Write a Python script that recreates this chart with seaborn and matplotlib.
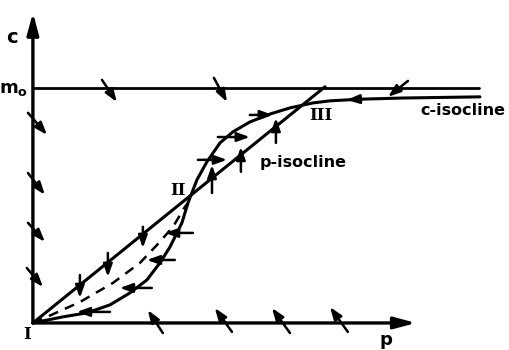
import numpy as np
import pandas as pd
import seaborn as sns
import matplotlib.pyplot as plt

sns.set_theme(style="white")

# curves (p, c), m0 = 1
c_iso_p = [0, 0.128, 0.230, 0.328, 0.413, 0.485, 0.540, 0.583, 0.613, 0.634,
           0.660, 0.698, 0.740, 0.796, 0.851, 0.923, 1.009, 1.094, 1.191,
           1.264, 1.391, 1.574, 1.902]
c_iso_c = [0, 0.026, 0.043, 0.077, 0.128, 0.183, 0.255, 0.323, 0.383, 0.426,
           0.511, 0.609, 0.685, 0.766, 0.813, 0.855, 0.889, 0.915, 0.936,
           0.945, 0.952, 0.957, 0.962]
p_iso_p = [0, 1.243]
p_iso_c = [0, 1.005]
sep_p = [0, 0.060, 0.200, 0.340, 0.455, 0.528, 0.596, 0.647, 0.660]
sep_c = [0, 0.026, 0.089, 0.170, 0.255, 0.332, 0.409, 0.494, 0.511]
m0_p = [0, 1.90]
m0_c = [1.0, 1.0]

# direction arrows: tail (p, c) -> head (p, c)
arr_tail_p = [0.294, 0.770, 1.596,
              -0.021, -0.021, -0.021, -0.026,
              0.553, 0.847, 1.094, 1.340,
              0.200, 0.319, 0.468,
              0.328, 0.506, 0.604, 0.681,
              0.762, 0.885, 1.034,
              0.702, 0.787, 0.923, 1.370]
arr_tail_c = [1.034, 1.043, 1.030,
              0.894, 0.638, 0.426, 0.234,
              -0.043, -0.038, -0.043, -0.038,
              0.204, 0.298, 0.409,
              0.047, 0.149, 0.268, 0.383,
              0.553, 0.643, 0.766,
              0.694, 0.791, 0.885, 0.951]
arr_head_p = [0.357, 0.826, 1.511,
              0.060, 0.051, 0.051, 0.043,
              0.489, 0.774, 1.017, 1.264,
              0.200, 0.319, 0.468,
              0.187, 0.370, 0.485, 0.562,
              0.762, 0.885, 1.034,
              0.826, 0.923, 1.021, 1.335]
arr_head_c = [0.940, 0.940, 0.962,
              0.800, 0.545, 0.345, 0.153,
              0.055, 0.064, 0.064, 0.068,
              0.106, 0.196, 0.319,
              0.047, 0.149, 0.268, 0.383,
              0.672, 0.749, 0.872,
              0.694, 0.791, 0.885, 0.949]

fig = plt.figure(figsize=(5.1, 3.5), dpi=100)
ax = fig.add_axes([0, 0, 1, 1])

line_kw = dict(sort=False, estimator=None, color="black", solid_joinstyle="round", ax=ax)
sns.lineplot(x=c_iso_p, y=c_iso_c, lw=2.2, **line_kw)
sns.lineplot(x=p_iso_p, y=p_iso_c, lw=2.2, **line_kw)
sns.lineplot(x=sep_p, y=sep_c, lw=1.8, linestyle=(0, (4, 3)), **line_kw)
sns.lineplot(x=m0_p, y=m0_c, lw=2.0, **line_kw)

# axes with arrowheads
axis_style = dict(arrowstyle="-|>,head_length=1.3,head_width=0.35", lw=2.4, color="black",
                  shrinkA=0, shrinkB=0, mutation_scale=10)
ax.annotate("", xy=(0, 1.32), xytext=(0, 0), arrowprops=axis_style)
ax.annotate("", xy=(1.63, 0), xytext=(0, 0), arrowprops=axis_style)

small_style = dict(arrowstyle="-|>,head_length=0.75,head_width=0.27", lw=1.8, color="black",
                   shrinkA=0, shrinkB=0, mutation_scale=10)
for tp, tc, hp, hc in zip(arr_tail_p, arr_tail_c, arr_head_p, arr_head_c):
    ax.annotate("", xy=(hp, hc), xytext=(tp, tc), arrowprops=small_style)

sans = dict(family="DejaVu Sans", fontweight="bold", ha="center", va="center", color="black")
serif = dict(family="DejaVu Serif", fontweight="bold", ha="center", va="center",
             fontsize=12, color="black")
ax.text(-0.089, 1.213, "c", fontsize=14, **sans)
ax.text(-0.083, 0.996, r"m$_\mathbf{o}$", fontsize=13, **sans)
ax.text(1.502, -0.072, "p", fontsize=13, **sans)
ax.text(1.149, 0.681, "p-isocline", fontsize=11.5, **sans)
ax.text(1.830, 0.902, "c-isocline", fontsize=11.5, **sans)
ax.text(-0.026, -0.051, "I", **serif)
ax.text(0.617, 0.562, "II", **serif)
ax.text(1.226, 0.881, "III", **serif)

ax.set_xlim(-0.14, 2.03)
ax.set_ylim(-0.115, 1.374)
ax.set_axis_off()

fig.savefig("out.png", dpi=100)
